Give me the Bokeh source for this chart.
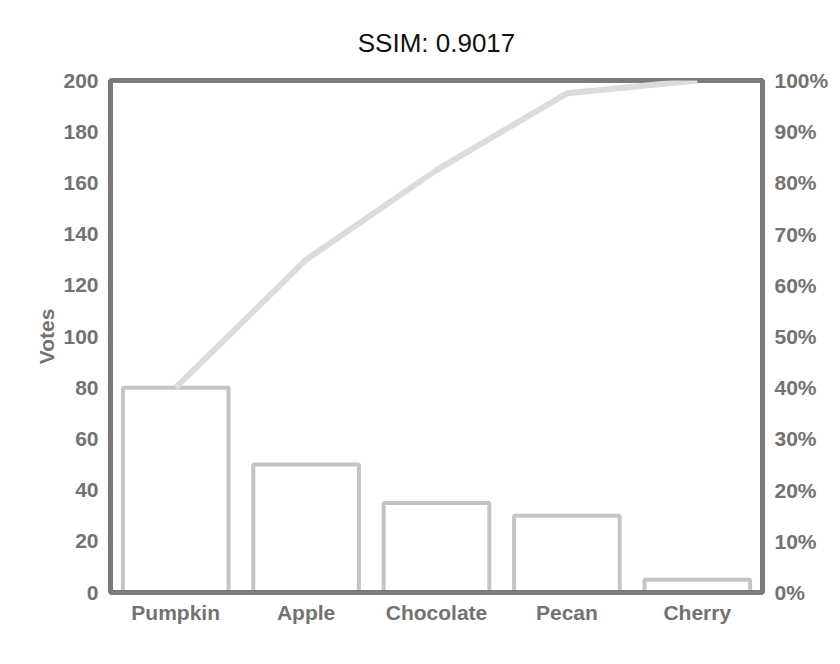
from bokeh.plotting import figure
from bokeh.models import Range1d, LinearAxis, SingleIntervalTicker, NumeralTickFormatter, FactorRange, ColumnDataSource
from bokeh.embed import file_html
from bokeh.resources import INLINE
import numpy as np

categories = ["Pumpkin", "Apple", "Chocolate", "Pecan", "Cherry"]
votes = [80, 50, 35, 30, 5]
left_max = 200

cum_pct = list(np.cumsum(votes) / float(sum(votes)))

src = ColumnDataSource(dict(cat=categories, votes=votes, pct=cum_pct))

p = figure(width=831, height=640, x_range=FactorRange(*categories, range_padding=0),
           y_range=Range1d(0, left_max), output_backend="svg", toolbar_location=None,
           title="SSIM: 0.9017",
           min_border_left=110, min_border_right=62, min_border_top=80, min_border_bottom=48)
p.title.align = "center"
p.title.text_font = "Liberation Sans"
p.title.text_font_size = "26px"
p.title.text_font_style = "normal"
p.title.text_color = "#111111"
p.title.standoff = 46

p.extra_y_ranges = {"pct": Range1d(0, 1)}

p.vbar(x="cat", top="votes", width=0.81, source=src, fill_color="white",
       line_color="#c4c4c4", line_width=4)
p.line(x="cat", y="pct", source=src, y_range_name="pct", line_color="#dcdcdc", line_width=6)

p.xgrid.visible = False
p.ygrid.visible = False
p.outline_line_color = "#7a7a7a"
p.outline_line_width = 5

lab_color = "#727272"
p.yaxis.ticker = SingleIntervalTicker(interval=20)
p.yaxis.axis_label = "Votes"
for ax in [p.yaxis[0], p.xaxis[0]]:
    ax.axis_line_color = "#7a7a7a"
    ax.axis_line_width = 5
    ax.major_tick_line_color = None
    ax.minor_tick_line_color = None
    ax.major_label_text_font = "Liberation Sans"
    ax.major_label_text_font_style = "bold"
    ax.major_label_text_font_size = "21px"
    ax.major_label_text_color = lab_color
    ax.axis_label_text_font = "Liberation Sans"
    ax.axis_label_text_font_style = "bold"
    ax.axis_label_text_font_size = "21px"
    ax.axis_label_text_color = lab_color
p.yaxis.major_label_standoff = 6
p.yaxis.axis_label_standoff = 2
p.xaxis.major_label_standoff = 2

right = LinearAxis(y_range_name="pct", ticker=SingleIntervalTicker(interval=0.1),
                   formatter=NumeralTickFormatter(format="0%"))
right.axis_line_color = "#7a7a7a"
right.axis_line_width = 5
right.major_tick_line_color = None
right.minor_tick_line_color = None
right.major_label_text_font = "Liberation Sans"
right.major_label_text_font_style = "bold"
right.major_label_text_font_size = "21px"
right.major_label_text_color = lab_color
right.major_label_standoff = 6
p.add_layout(right, "right")

open("out.html", "w").write(file_html(p, INLINE))
